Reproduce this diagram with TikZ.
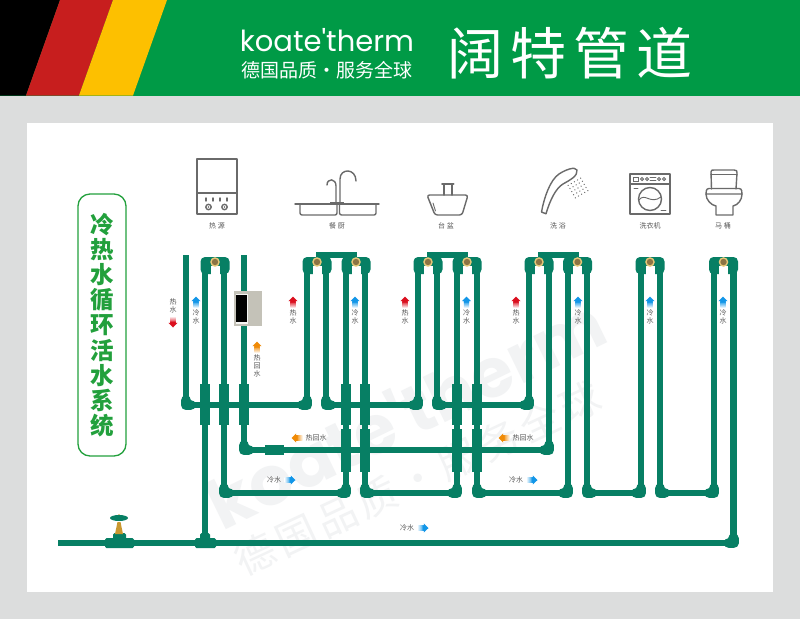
\documentclass[tikz,border=0pt]{standalone}
\usepackage{fontspec}
\setmainfont{Noto Sans CJK SC}
\newfontfamily\cjk{Noto Sans CJK SC}
\newfontfamily\titlecjk[LetterSpace=12]{Noto Sans CJK SC}
\newfontfamily\markcjk[LetterSpace=12]{Noto Sans CJK SC}
\newfontfamily\logofont{Poppins}
\definecolor{pipegreen}{HTML}{077F64}
\definecolor{bannergreen}{HTML}{009A46}
\definecolor{panelgrey}{HTML}{DCDDDD}
\definecolor{boxgreen}{HTML}{22A03C}
\definecolor{iconline}{HTML}{6A6A6A}
\definecolor{labelgrey}{HTML}{555555}
\definecolor{markgrey}{HTML}{F2F3F4}
\definecolor{hotred}{HTML}{DB0F1E}
\definecolor{coldblue}{HTML}{1296E8}
\definecolor{backorange}{HTML}{F08A05}
\definecolor{flagred}{HTML}{C71E1E}
\definecolor{flagyellow}{HTML}{FDC000}
\definecolor{brasslight}{HTML}{E8C878}
\definecolor{brassdark}{HTML}{8C7444}
\definecolor{valvebrass}{HTML}{C9972F}
\definecolor{heatergrey}{HTML}{C4C2B8}
\tikzset{
  pipe/.style={draw=pipegreen,line width=6.8pt,line join=round},
  sock/.style={draw=pipegreen,line width=9.6pt,line cap=butt},
  corner/.style={draw=pipegreen,line width=10.5pt,line join=round,line cap=round},
  icon/.style={draw=iconline,line width=1.4pt,line join=round,line cap=round},
  thinicon/.style={draw=iconline,line width=.9pt,line cap=round},
  devlabel/.style={text=labelgrey,font=\cjk\fontsize{7}{8}\selectfont,inner sep=0pt},
  flowlabel/.style={text=labelgrey,font=\cjk\fontsize{7}{8}\selectfont,inner sep=0pt,align=center},
  watermark/.style={text=markgrey,inner sep=0pt},
}
% top manifold fitting with its brass outlet
\newcommand{\topfit}[1]{%
  \fill[pipegreen,rounded corners=4.5pt] (#1-14.5,274) -- (#1-14.5,257) -- (#1+14.5,257) -- (#1+14.5,274) -- cycle;
  \fill[white] (#1-4.5,266) rectangle (#1+4.5,282);
  \fill[brasslight] (#1,262) circle (4.8);
  \fill[brassdark] (#1,262) circle (3.2);
}
% flow arrow: local shape points up, #3 = rotation
\newcommand{\flowarrow}[4]{%
  \begin{scope}[shift={(#1,#2)},rotate=#3]
    \shade[top color=#4,bottom color=#4!5,shading angle=#3]
      (2.6,-1) rectangle (-2.6,5.5);
    \fill[#4] (0,-5.5) -- (4.6,-0.8) -- (2.6,-0.8) -- (2.6,.5) -- (-2.6,.5) -- (-2.6,-0.8) -- (-4.6,-0.8) -- cycle;
  \end{scope}
}
\begin{document}
\begin{tikzpicture}[x=1pt,y=-1pt]
\useasboundingbox (0,0) rectangle (800,619);
% background
\fill[panelgrey] (0,0) rectangle (800,619);
\fill[white] (27,122.5) rectangle (773,592);
% banner
\fill[bannergreen] (0,0) rectangle (800,95.5);
\fill[black] (0,0) -- (60,0) -- (26,95.5) -- (0,95.5) -- cycle;
\fill[flagred] (60,0) -- (113,0) -- (79,95.5) -- (26,95.5) -- cycle;
\fill[flagyellow] (113,0) -- (167,0) -- (133,95.5) -- (79,95.5) -- cycle;
\node[text=white,inner sep=0pt,font=\logofont\fontsize{29}{29}\selectfont] (logo) at (327,40) {koate'therm};
\node[text=white,inner sep=0pt,font=\cjk\fontsize{19}{19}\selectfont] (slogan) at (327,70.5) {德国品质·服务全球};
\node[text=white,inner sep=0pt,font=\titlecjk\fontsize{56}{56}\selectfont] (brand) at (570,53) {阔特管道};
% watermark
\node[watermark,rotate=26,font=\logofont\bfseries\fontsize{68}{68}\selectfont] (wm1) at (405,412) {koate'therm};
\node[watermark,rotate=25,font=\markcjk\fontsize{40}{40}\selectfont] (wm2) at (418,478) {德国品质·服务全球};
% title
\node[draw=boxgreen,line width=1.3pt,rounded corners=12pt,minimum width=48pt,minimum height=262pt,inner sep=0pt,
      text=boxgreen,align=center,font=\cjk\bfseries\fontsize{23.5}{25.2}\selectfont] (title) at (102,325)
      {冷\\热\\水\\循\\环\\活\\水\\系\\统};
% ---- icons ----
% boiler
\draw[icon] (197,159) rectangle (237,214);
\draw[icon] (197,193) -- (237,193);
\foreach \x in {206,213,220,227} \draw[icon] (\x,198) -- (\x,201);
\foreach \x in {208.5,224.5} {\draw[icon] (\x,207) circle (2.7); \fill[iconline] (\x,207) circle (.9);}
% sink
\draw[icon] (295,204) -- (379,204);
\draw[icon,rounded corners=2pt] (300,204) -- (300,215) -- (337,215) -- (337,204);
\draw[icon,rounded corners=2pt] (339.5,204) -- (339.5,215) -- (376,215) -- (376,204);
\draw[icon] (340,202) -- (340,179) .. controls (340,168) and (356,168) .. (356,181);
\draw[icon] (336,202) -- (336,186) .. controls (336,178) and (327,178) .. (327,185);
\fill[iconline] (330,201.5) rectangle (344,204);
% basin
\draw[icon,rounded corners=2.5pt] (427,195) -- (468,195) -- (462,215) -- (435,215) -- cycle;
\draw[icon] (444,195) -- (444,184) (452,195) -- (452,184);
\draw[icon,line width=2pt] (442,183.5) -- (453.5,183.5);
\draw[thinicon] (433,203) -- (435.5,211);
% shower
\draw[icon] (541.5,212) -- (546,213.8) .. controls (550,200) and (556,188) .. (563,184) .. controls (570,180) and (578,176) .. (577,170) .. controls (575,166) and (565,170) .. (559,174) .. controls (550,180) and (544,198) .. (541.5,212) -- cycle;
\begin{scope}[shift={(578,188)},rotate=30]
\foreach \a in {-2,...,2} \foreach \b in {-2,...,2} \fill[iconline] (\a*3.6,\b*3.6) circle (.7);
\end{scope}
% washing machine
\draw[icon] (630,174) rectangle (670,214);
\draw[icon] (630,184) -- (670,184);
\draw[thinicon] (633.5,177) rectangle (638,181);
\foreach \x in {642,647,664,659} \draw[thinicon] (\x,179) circle (1.6);
\draw[thinicon] (650,177.5) -- (656,177.5) (650,180.5) -- (656,180.5);
\draw[icon] (650,199) circle (11.5);
\draw[thinicon] (639,200) .. controls (645,192) and (650,205) .. (661,197);
\draw[thinicon] (634,188) -- (638,188) (661,210) -- (666,210);
% toilet
\draw[icon] (711.5,189) -- (711,172) .. controls (711,170) and (712,170) .. (714,170) -- (734,170) .. controls (737,170) and (737,171) .. (737,173) -- (736,189);
\draw[icon] (711,174.5) -- (737,174.5);
\draw[icon] (709,188.5) -- (739,188.5) .. controls (742,188.5) and (742,192) .. (742,194) -- (706,194) .. controls (706,192) and (706,188.5) .. (709,188.5) -- cycle;
\draw[icon] (706,194) .. controls (706,200) and (711,205) .. (716,206) -- (716,215) -- (733,215) -- (733,206) .. controls (738,205) and (742,200) .. (742,194);
\node[devlabel] (l1) at (217,226) {热 源};
\node[devlabel] (l2) at (337,226) {餐 厨};
\node[devlabel] (l3) at (446,226) {台 盆};
\node[devlabel] (l4) at (558,226) {洗 浴};
\node[devlabel] (l5) at (650,226) {洗衣机};
\node[devlabel] (l6) at (723,226) {马 桶};
% ---- pipes ----
\foreach \a/\b in {205/543,224/493,346/493,365/493,457/493,477/493,568/493,587/493,641/493,660/493,714/493,733.5/543,244/450,549/450,186/405,307/405,326/405,418/405,437/405,529/405}
  \draw[pipe] (\a,260) -- (\a,\b);
\draw[pipe] (186,255) -- (186,260) (244,255) -- (244,260);
\draw[pipe] (186,405) -- (307,405);
\draw[pipe] (326,405) -- (418,405);
\draw[pipe] (437,405) -- (529,405);
\draw[pipe] (244,450) -- (549,450);
\draw[pipe] (224,493) -- (346,493);
\draw[pipe] (365,493) -- (457,493);
\draw[pipe] (477,493) -- (568,493);
\draw[pipe] (587,493) -- (641,493);
\draw[pipe] (660,493) -- (714,493);
\draw[pipe] (58,543) -- (733.5,543);
% sockets at crossings
\foreach \x in {205,224,244,346,365,457,477} \draw[sock] (\x,384) -- (\x,425);
\foreach \x in {346,365,457,477} \draw[sock] (\x,429) -- (\x,472);
\draw[sock] (265,450) -- (284,450);
% corner fittings
\foreach \x/\y/\dx in {186/405/1,326/405/1,437/405/1,244/450/1,224/493/1,365/493/1,477/493/1,587/493/1,660/493/1,
                       307/405/-1,418/405/-1,529/405/-1,549/450/-1,346/493/-1,457/493/-1,568/493/-1,641/493/-1,714/493/-1,733.5/543/-1}
  \draw[corner] (\x,\y-4.5) -- (\x,\y) -- (\x+\dx*4.5,\y);
% tee on the main
\fill[pipegreen,rounded corners=1.5pt] (195,548) rectangle (216,538);
\fill[pipegreen,rounded corners=1.5pt] (200,540) rectangle (210,533);
% top bridges
\foreach \x in {316,427,537.5} \fill[pipegreen] (\x,252) rectangle (\x+41,258);
% top fittings
\foreach \x in {215,317,356,428,467,539,577.5,650,723.5} \topfit{\x}
% heater
\fill[heatergrey] (234,291) rectangle (262,326);
\fill[white!85!heatergrey] (235.5,293.5) rectangle (248,323.5);
\fill[black] (236,295) rectangle (247,322);
% valve
\fill[pipegreen,rounded corners=1.5pt] (105,538) rectangle (134,548);
\fill[pipegreen,rounded corners=1.5pt] (113,533) rectangle (126,540);
\fill[valvebrass] (115,534) -- (123,534) -- (120.5,522) -- (117.5,522) -- cycle;
\fill[valvebrass] (119,515.5) circle (1.3);
\fill[pipegreen] (119,518) ellipse (9 and 3);
% ---- flow labels ----
\flowarrow{173}{322}{180}{hotred}
\node[flowlabel] (f1) at (173,306) {热\\水};
\foreach \x/\n in {293/a,405/b,516/c} {
  \flowarrow{\x}{302}{0}{hotred}
  \node[flowlabel] (h\n) at (\x,317) {热\\水};
}
\foreach \x/\n in {196/a,355/b,466.5/c,578/d,650/e,723/f} {
  \flowarrow{\x}{302}{0}{coldblue}
  \node[flowlabel] (c\n) at (\x,317) {冷\\水};
}
\flowarrow{257}{347}{0}{backorange}
\node[flowlabel] (r1) at (257,366) {热\\回\\水};
\flowarrow{297}{438}{90}{backorange}
\node[flowlabel] (r2) at (316,438) {热回水};
\flowarrow{504}{438}{90}{backorange}
\node[flowlabel] (r3) at (523,438) {热回水};
\node[flowlabel] (k1) at (274,480) {冷水};
\flowarrow{290}{480}{-90}{coldblue}
\node[flowlabel] (k2) at (516,480) {冷水};
\flowarrow{532}{480}{-90}{coldblue}
\node[flowlabel] (k3) at (407,528) {冷水};
\flowarrow{423}{528}{-90}{coldblue}
\end{tikzpicture}
\end{document}
